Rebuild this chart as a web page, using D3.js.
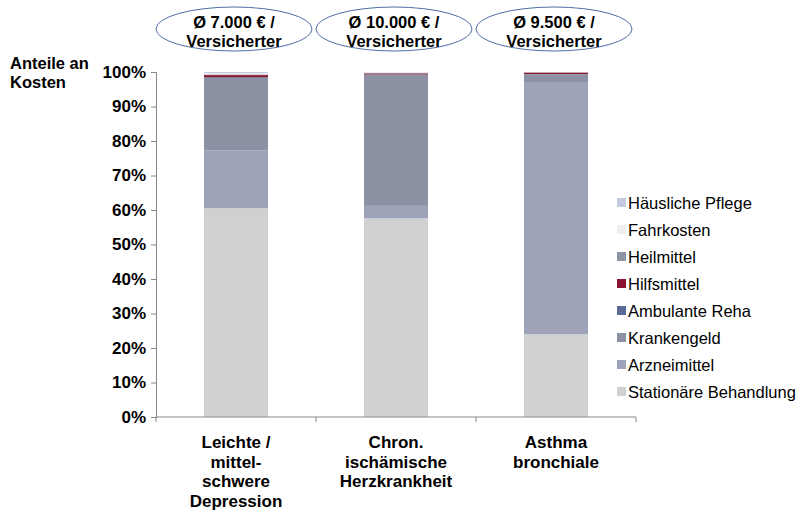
<!DOCTYPE html>
<meta charset="utf-8">
<title>Anteile an Kosten</title>
<style>
  body { margin: 0; background: #fff; }
  svg { font-family: "Liberation Sans", Arial, sans-serif; }
</style>
<script src="https://cdn.jsdelivr.net/npm/d3@7"></script>
<div id="chart"></div>
<script>
// categories (x axis), one label line per entry
var categories = ["Depression", "Herz", "Asthma"];
var categoryLines = [
  ["Leichte /", "mittel-", "schwere", "Depression"],
  ["Chron.", "ischämische", "Herzkrankheit"],
  ["Asthma", "bronchiale"]
];
var bubbleLines = [
  ["Ø 7.000 € /", "Versicherter"],
  ["Ø 10.000 € /", "Versicherter"],
  ["Ø 9.500 € /", "Versicherter"]
];

// series, bottom to top of the stack (percent)
var series = ["Stationäre Behandlung", "Arzneimittel", "Krankengeld", "Ambulante Reha",
              "Hilfsmittel", "Heilmittel", "Fahrkosten", "Häusliche Pflege"];
var stationaer   = [60.5, 57.6, 24.0];
var arzneimittel = [16.8, 3.6, 73.1];
var krankengeld  = [21.0, 38.0, 2.2];
var ambReha      = [0.2, 0.1, 0.1];
var hilfsmittel  = [0.6, 0.3, 0.4];
var heilmittel   = [0.2, 0.1, 0.1];
var fahrkosten   = [0.4, 0.1, 0.0];
var pflege       = [0.3, 0.1, 0.0];
var colors = ["#d0d0d0", "#9ea3b9", "#8c92a3", "#5a6a94",
              "#8b1430", "#9095a6", "#eeeeee", "#c5cbe0"];
var yTicks = [0, 10, 20, 30, 40, 50, 60, 70, 80, 90, 100];

var values = [stationaer, arzneimittel, krankengeld, ambReha, hilfsmittel, heilmittel, fahrkosten, pflege];
var rows = categories.map(function(c, i) {
  var r = {cat: c};
  series.forEach(function(s, j) { r[s] = values[j][i]; });
  return r;
});

var W = 798, H = 511;
var svg = d3.select("#chart").append("svg").attr("width", W).attr("height", H);

var x = d3.scaleBand().domain(categories).range([156, 636]).paddingInner(0.6).paddingOuter(0.3);
var y = d3.scaleLinear().domain([0, 100]).range([417, 72]);

var stack = d3.stack().keys(series)(rows);

// bars
svg.append("g").selectAll("g")
  .data(stack)
  .enter().append("g")
  .attr("fill", function(d, i) { return colors[i]; })
  .selectAll("rect")
  .data(function(d) { return d; })
  .enter().append("rect")
  .attr("x", function(d) { return x(d.data.cat); })
  .attr("width", x.bandwidth())
  .attr("y", function(d) { return y(d[1]); })
  .attr("height", function(d) { return Math.max(0, y(d[0]) - y(d[1])); });

// y axis
var yAxis = svg.append("g")
  .attr("transform", "translate(156,0)")
  .call(d3.axisLeft(y).tickValues(yTicks).tickSize(5).tickPadding(5)
    .tickFormat(function(d) { return d + "%"; }));
yAxis.selectAll("text").style("font-size", "17px").style("font-weight", "bold").attr("fill", "#000");
yAxis.selectAll("line").attr("stroke", "#888");
yAxis.select(".domain").attr("stroke", "#888");

// x axis (ticks at band edges)
var xg = svg.append("g");
xg.append("line").attr("x1", 156).attr("x2", 636).attr("y1", 417).attr("y2", 417).attr("stroke", "#888");
var step = x.step();
var first = x(categories[0]) - step * 0.3;
d3.range(categories.length + 1).forEach(function(i) {
  xg.append("line").attr("x1", first + i * step).attr("x2", first + i * step)
    .attr("y1", 417).attr("y2", 422).attr("stroke", "#888");
});

// category labels
categoryLines.forEach(function(lines, i) {
  var cx = x(categories[i]) + x.bandwidth() / 2;
  var t = svg.append("text")
    .attr("text-anchor", "middle")
    .style("font-size", "17px").style("font-weight", "bold");
  lines.forEach(function(l, k) {
    t.append("tspan").attr("x", cx).attr("y", 448 + k * 19.7).text(l);
  });
});

// bubbles above bars
bubbleLines.forEach(function(lines, i) {
  var cx = x(categories[i]) + x.bandwidth() / 2 - 2;
  svg.append("ellipse").attr("cx", cx).attr("cy", 29).attr("rx", 78).attr("ry", 22)
    .attr("fill", "#fff").attr("stroke", "#4f6ea8").attr("stroke-width", 1);
  var t = svg.append("text").attr("text-anchor", "middle")
    .style("font-size", "16.5px").style("font-weight", "bold");
  lines.forEach(function(l, k) {
    t.append("tspan").attr("x", cx).attr("y", 28 + k * 18.5).text(l);
  });
});

// y title
svg.append("text")
  .style("font-size", "16.5px").style("font-weight", "bold")
  .selectAll("tspan").data(["Anteile an", "Kosten"]).enter().append("tspan")
  .attr("x", 10).attr("y", function(d, i) { return 69 + i * 19; }).text(function(d) { return d; });

// legend (top = last series)
var legendItems = series.slice().reverse();
var lg = svg.append("g").attr("transform", "translate(617,203)");
legendItems.forEach(function(s, i) {
  var idx = series.indexOf(s);
  lg.append("rect").attr("x", 0).attr("y", i * 27 - 5).attr("width", 9).attr("height", 9)
    .attr("fill", colors[idx]);
  lg.append("text").attr("x", 11).attr("y", i * 27 + 6)
    .style("font-size", "16.5px").text(s);
});
</script>
